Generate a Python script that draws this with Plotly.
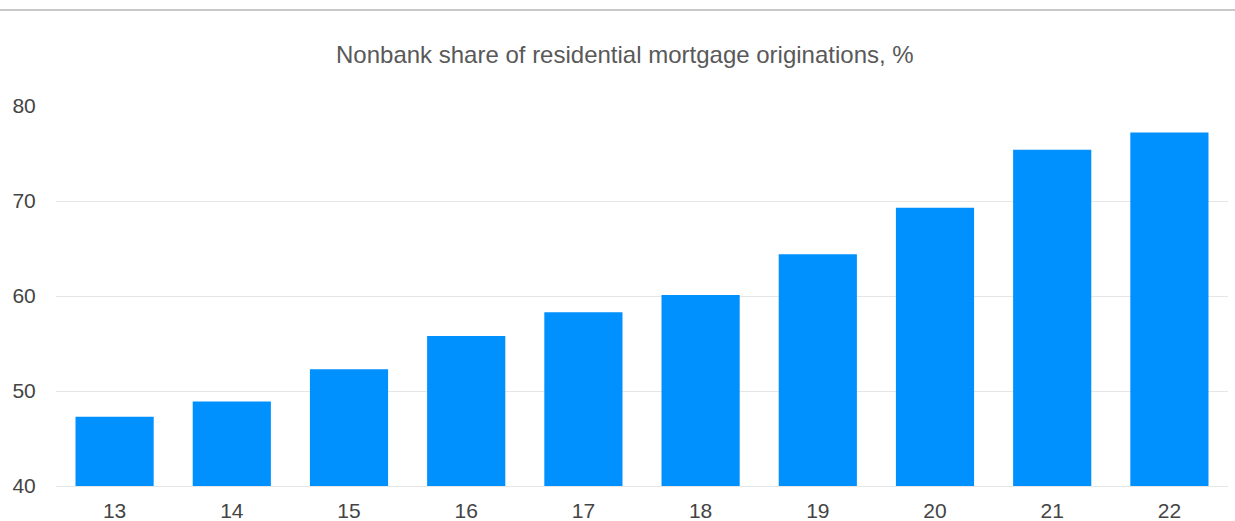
import plotly.graph_objects as go

years = ["13", "14", "15", "16", "17", "18", "19", "20", "21", "22"]
nonbank_share = [47.3, 48.9, 52.3, 55.8, 58.3, 60.1, 64.4, 69.3, 75.4, 77.2]
y_ticks = [40, 50, 60, 70, 80]
title_text = "Nonbank share of residential mortgage originations, %"

W, H = 1235, 521
ml, mr, mt, mb = 56, 7, 106, 35
pw = W - ml - mr
ph = H - mt - mb

fig = go.Figure(go.Bar(
    x=years, y=nonbank_share,
    marker=dict(color="#0091ff", line=dict(width=0)),
    width=0.667,
))

fig.update_layout(
    width=W, height=H,
    margin=dict(l=ml, r=mr, t=mt, b=mb, autoexpand=False),
    paper_bgcolor="white", plot_bgcolor="white",
    font=dict(family="Liberation Sans, Arial, sans-serif", size=21, color="#444444"),
    showlegend=False,
    bargap=0.333,
)
fig.update_yaxes(
    range=[40, 80], tickvals=y_ticks, showgrid=True, gridcolor="#e6e6e6", gridwidth=1,
    zeroline=False, showline=False, ticks="outside", ticklen=15, tickcolor="rgba(0,0,0,0)",
    tickfont=dict(size=21, color="#444444"), automargin=False,
)
fig.update_xaxes(
    showgrid=False, showline=True, linecolor="#e6e6e6", linewidth=1,
    ticks="outside", ticklen=6, tickcolor="rgba(0,0,0,0)",
    tickfont=dict(size=21, color="#444444"), automargin=False,
)
fig.add_annotation(
    text=title_text, xref="paper", yref="paper",
    x=(625 - ml) / pw, y=(H - mb - 55) / ph, xanchor="center", yanchor="middle",
    showarrow=False, font=dict(size=24, color="#595959"),
)
fig.add_shape(
    type="line", xref="paper", yref="paper",
    x0=-ml / pw, x1=(W - ml) / pw, y0=(H - mb - 10) / ph, y1=(H - mb - 10) / ph,
    line=dict(color="#c8c8c8", width=2),
)

fig.write_html("out.html")
